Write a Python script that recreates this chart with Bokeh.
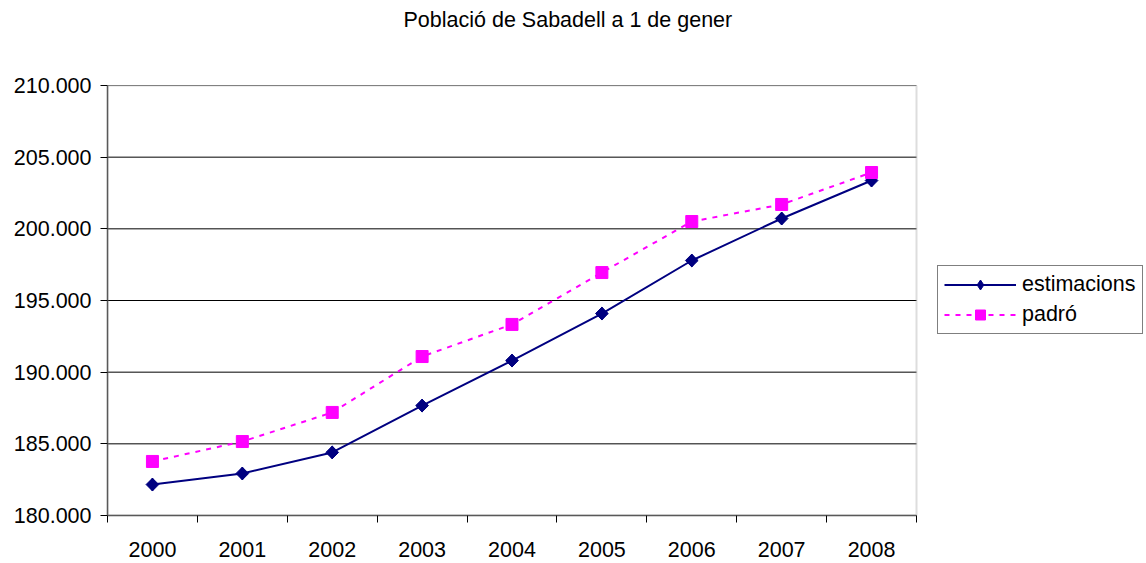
import math
from bokeh.plotting import figure
from bokeh.models import (Range1d, FixedTicker, Legend, LegendItem, ColumnDataSource,
                          Title, BoxAnnotation)
from bokeh.embed import file_html
from bokeh.resources import INLINE

years = ["2000", "2001", "2002", "2003", "2004", "2005", "2006", "2007", "2008"]
estimacions = [182160, 182930, 184400, 187670, 190810, 194090, 197790, 200720, 203370]
padro = [183770, 185160, 187190, 191090, 193330, 196950, 200510, 201700, 203930]
y_ticks = [180000, 185000, 190000, 195000, 200000, 205000, 210000]
y_labels = ["180.000", "185.000", "190.000", "195.000", "200.000", "205.000", "210.000"]

title_text = "Població de Sabadell a 1 de gener"
FONT = "Liberation Sans"

W, H = 1146, 560
LEFT, TOP = 107, 85
PLOT_RIGHT = 916          # right edge of the visible plot area
FRAME_RIGHT = 1146        # frame extends under the legend
n = len(years)
x_end = n * (FRAME_RIGHT - LEFT) / (PLOT_RIGHT - LEFT)

xpos = [i + 0.5 for i in range(n)]
src = ColumnDataSource(dict(x=xpos, est=estimacions, pad=padro))

p = figure(width=W, height=H, output_backend="svg", toolbar_location=None,
           x_range=Range1d(0, x_end), y_range=Range1d(180000, 210000),
           min_border_left=LEFT, min_border_right=W - FRAME_RIGHT, min_border_top=TOP,
           min_border_bottom=45)
p.title_location = None

p.background_fill_color = "white"
p.border_fill_color = "white"
p.outline_line_color = None

# spacer between frame and title (nearest the frame)
spacer_top = Title(text=" ", text_font_size="1px", standoff=46)
p.add_layout(spacer_top, "above")
main_title = Title(text=title_text, text_font=FONT, text_font_size="21.5px",
                   text_font_style="normal", text_color="#000000",
                   align="left", offset=296, standoff=10)
p.add_layout(main_title, "above")

# x axis
p.xaxis.ticker = FixedTicker(ticks=xpos, minor_ticks=list(range(n + 1)))
p.xaxis.major_label_overrides = {x: y for x, y in zip(xpos, years)}
p.xaxis.bounds = (0, n)
p.xaxis.major_tick_out = 0
p.xaxis.major_tick_in = 0
p.xaxis.minor_tick_out = 7
p.xaxis.minor_tick_in = 0
p.xaxis.minor_tick_line_color = "#000000"
p.xaxis.major_label_standoff = 19
# y axis
p.yaxis.ticker = FixedTicker(ticks=y_ticks, minor_ticks=[])
p.yaxis.major_label_overrides = {t: l for t, l in zip(y_ticks, y_labels)}
p.yaxis.major_tick_out = 7
p.yaxis.major_tick_in = 0
p.yaxis.major_label_standoff = 9

for ax in (p.xaxis, p.yaxis):
    ax.major_label_text_font = FONT
    ax.major_label_text_font_size = "21.5px"
    ax.major_label_text_color = "#000000"
    ax.axis_line_color = "#505050"
    ax.axis_line_width = 1.5
    ax.major_tick_line_color = "#000000"

# horizontal grid lines limited to the plot area
p.xgrid.visible = False
p.ygrid.visible = False
p.segment(x0=[0] * len(y_ticks), x1=[n] * len(y_ticks), y0=y_ticks, y1=y_ticks,
          line_color="#000000", line_width=1, level="underlay")

l1 = p.line("x", "est", source=src, line_color="#000080", line_width=2)
m1_dia = p.scatter("x", "est", source=src, marker="diamond", size=13,
                   fill_color="#000080", line_color="#000080")
m1 = p.scatter("x", "est", source=src, marker="square", angle=math.pi / 4, size=9,
               fill_color="#000080", line_color="#000080")
l2 = p.line("x", "pad", source=src, line_color="#FF00FF", line_width=2, line_dash="5 6")
m2 = p.scatter("x", "pad", source=src, marker="square", size=12,
               fill_color="#FF00FF", line_color="#FF00FF")

# plot-area border
border = BoxAnnotation(left=0, right=n, bottom=180000, top=210000,
                       fill_alpha=0, line_color="#909090", line_width=2)
p.add_layout(border)

legend = Legend(items=[LegendItem(label="estimacions", renderers=[l1, m1_dia]),
                       LegendItem(label="padró", renderers=[l2, m2])],
                location=(937 - LEFT, 515 - 334))
legend.label_text_font = FONT
legend.label_text_font_size = "21.5px"
legend.label_text_color = "#000000"
legend.glyph_width = 72
legend.glyph_height = 25
legend.label_height = 25
legend.label_standoff = 6
legend.padding = 6
legend.spacing = 5
legend.margin = 0
legend.border_line_color = "#000000"
legend.border_line_width = 1
legend.background_fill_color = "white"
legend.background_fill_alpha = 1
p.add_layout(legend, "center")

open("out.html", "w").write(file_html(p, INLINE))
